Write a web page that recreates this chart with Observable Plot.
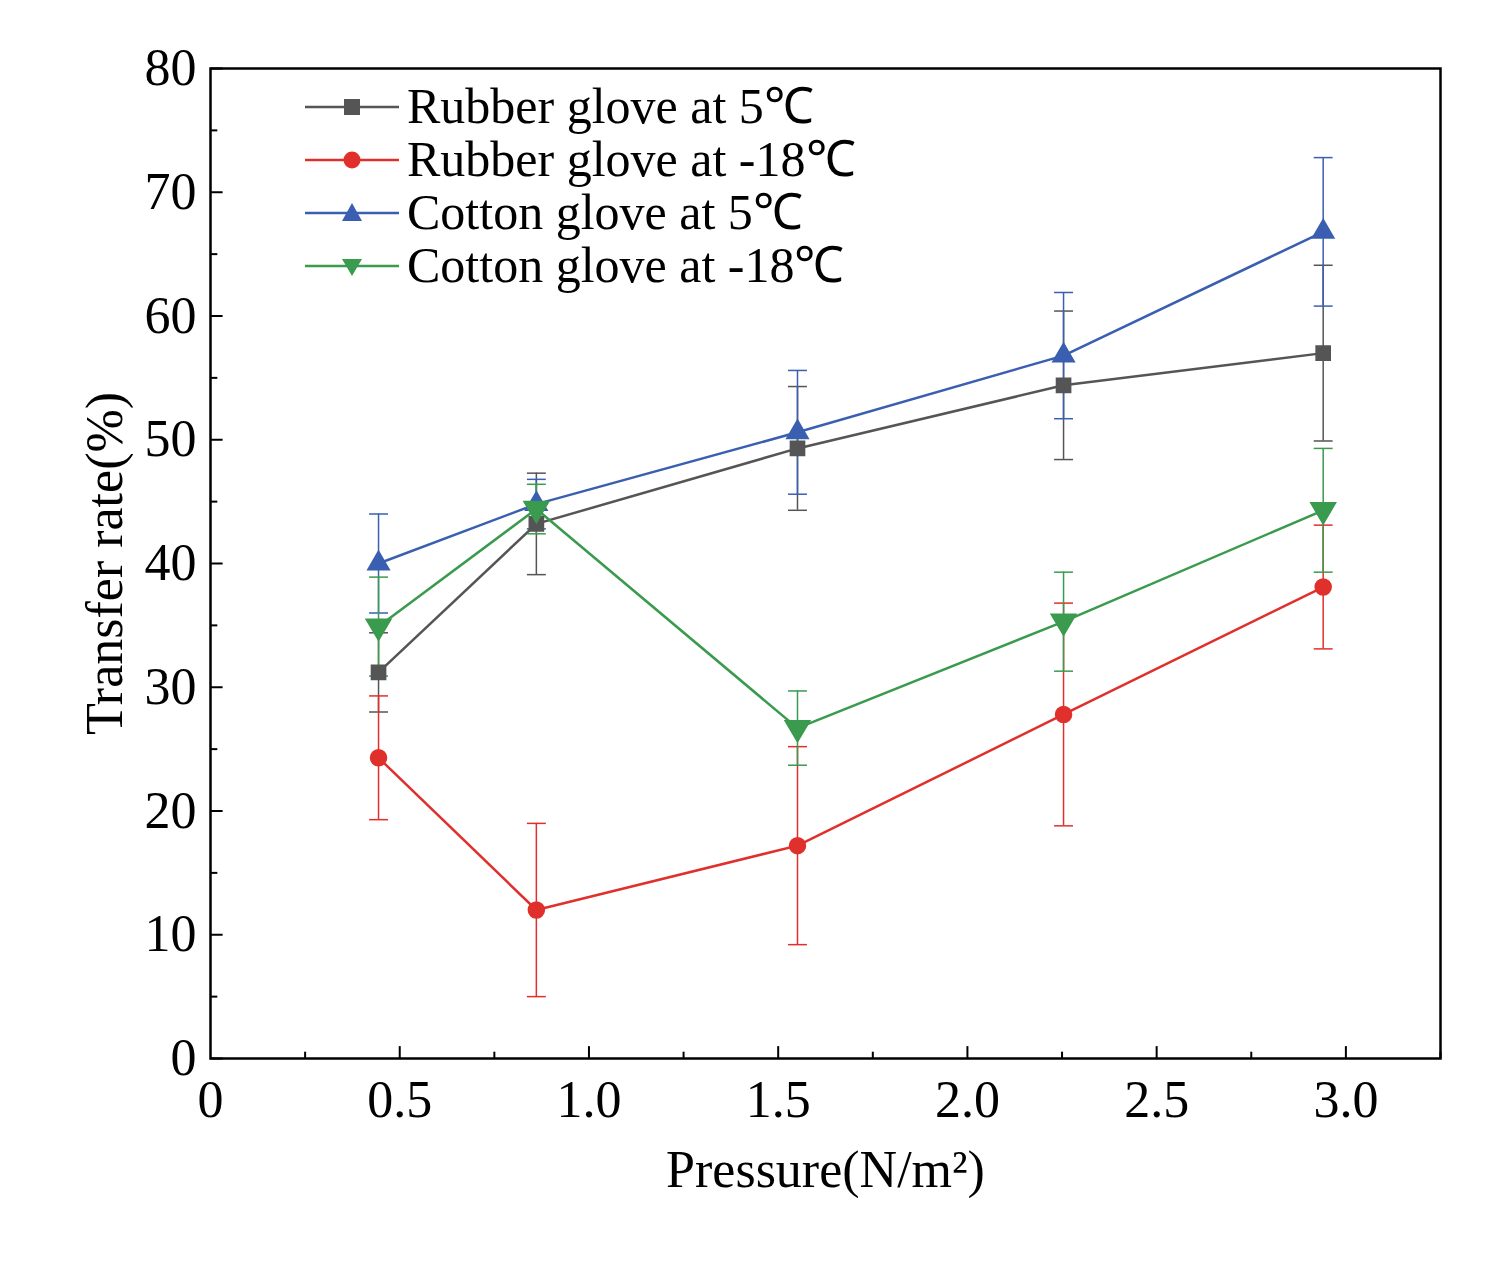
<!DOCTYPE html>
<html><head><meta charset="utf-8">
<script src="https://cdn.jsdelivr.net/npm/d3@7"></script>
<script src="https://cdn.jsdelivr.net/npm/@observablehq/plot@0.6"></script>
<style>
body{margin:0;background:#fff;font-family:"Liberation Serif",serif}
#wrap{position:relative;width:1505px;height:1271px}
#legend{position:absolute;left:303px;top:80px;font-size:50px;line-height:53px}
.row{display:flex;align-items:center;height:53px}
.row svg{margin-right:4px}
</style></head><body>
<div id="wrap"><div id="legend"></div></div>
<script>
const pressure=[0.444,0.861,1.551,2.254,2.94];
const seriesNames=["Rubber glove at 5℃","Rubber glove at -18℃","Cotton glove at 5℃","Cotton glove at -18℃"];
const rubber5=[31.2,43.2,49.3,54.4,57.0];
const rubber5Err=[3.2,4.1,5.0,6.0,7.1];
const rubberM18=[24.3,12.0,17.2,27.8,38.1];
const rubberM18Err=[5.0,7.0,8.0,9.0,5.0];
const cotton5=[40.0,44.8,50.6,56.8,66.8];
const cotton5Err=[4.0,2.0,5.0,5.1,6.0];
const cottonM18=[34.9,44.4,26.7,35.3,44.3];
const cottonM18Err=[4.0,2.0,3.0,4.0,5.0];
const colors=["#555555","#e0302c","#3a5fb0","#3a9a4e"];
const triDown={draw(c,size){const r=Math.sqrt(size/1.3);c.moveTo(-r,-r*0.6);c.lineTo(r,-r*0.6);c.lineTo(0,r*1.1);c.closePath();}};
const symbols=["square","circle","triangle",triDown];
const vals=[rubber5,rubberM18,cotton5,cottonM18], errs=[rubber5Err,rubberM18Err,cotton5Err,cottonM18Err];
const data=[];
vals.forEach((v,s)=>v.forEach((y,i)=>data.push({s,x:pressure[i],y,e:errs[s][i]})));
const yMajor=d3.range(0,81,10), yMinor=d3.range(5,80,10);
const xMajor=d3.range(0.5,3.01,0.5), xMinor=d3.range(0.25,3.26,0.5);
const marks=[Plot.frame({stroke:"#000",strokeWidth:2.5})];
vals.forEach((v,s)=>{
  const d=data.filter(r=>r.s===s);
  marks.push(Plot.ruleX(d,{x:"x",y1:r=>r.y-r.e,y2:r=>r.y+r.e,stroke:colors[s],strokeWidth:1.5}));
  marks.push(Plot.link(d,{x1:r=>r.x-0.025,x2:r=>r.x+0.025,y1:r=>r.y-r.e,y2:r=>r.y-r.e,stroke:colors[s],strokeWidth:1.5}));
  marks.push(Plot.link(d,{x1:r=>r.x-0.025,x2:r=>r.x+0.025,y1:r=>r.y+r.e,y2:r=>r.y+r.e,stroke:colors[s],strokeWidth:1.5}));
  marks.push(Plot.line(d,{x:"x",y:"y",stroke:colors[s],strokeWidth:2.5}));
});
marks.push(Plot.link(yMajor,{x1:0,x2:0.032,y1:d=>d,y2:d=>d,stroke:"#000",strokeWidth:2}));
marks.push(Plot.link(yMinor,{x1:0,x2:0.018,y1:d=>d,y2:d=>d,stroke:"#000",strokeWidth:2}));
marks.push(Plot.link(xMajor,{x1:d=>d,x2:d=>d,y1:0,y2:1.0,stroke:"#000",strokeWidth:2}));
marks.push(Plot.link(xMinor,{x1:d=>d,x2:d=>d,y1:0,y2:0.55,stroke:"#000",strokeWidth:2}));
marks.push(Plot.axisY(yMajor,{tickSize:0,tickPadding:14,fontSize:52,label:"Transfer rate(%)",labelAnchor:"center",labelArrow:"none",labelOffset:125}));
marks.push(Plot.axisX(d3.range(0,3.01,0.5),{tickSize:0,tickPadding:22,fontSize:52,tickFormat:d=>d===0?"0":d.toFixed(1),label:null}));
marks.push(Plot.text(["Pressure(N/m²)"],{frameAnchor:"bottom",dy:128,fontSize:52,text:d=>d}));
vals.forEach((v,s)=>marks.push(Plot.dot(data.filter(r=>r.s===s),{x:"x",y:"y",fill:colors[s],stroke:colors[s],symbol:symbols[s],r:8})));
const chart=Plot.plot({
  width:1505,height:1271,marginLeft:210,marginRight:65,marginTop:68,marginBottom:213,
  style:{fontFamily:"Liberation Serif",fontSize:"52px",color:"#000",background:"#fff"},
  x:{domain:[0,3.25]},y:{domain:[0,80]},
  marks
});
document.getElementById("wrap").prepend(chart);
const leg=document.getElementById("legend");
const shapes=[
 '<rect x="41" y="-8" width="16" height="16"/>',
 '<circle cx="49" cy="0" r="8.5"/>',
 '<path d="M49,-10L59,8L39,8Z"/>',
 '<path d="M39,-7L59,-7L49,10Z"/>'];
seriesNames.forEach((n,s)=>{
  leg.insertAdjacentHTML("beforeend",`<div class="row"><svg width="100" height="30" viewBox="0 -15 100 30" fill="${colors[s]}"><line x1="2" x2="96" y1="0" y2="0" stroke="${colors[s]}" stroke-width="2.5"/>${shapes[s]}</svg><span>${n}</span></div>`);
});
</script></body></html>
